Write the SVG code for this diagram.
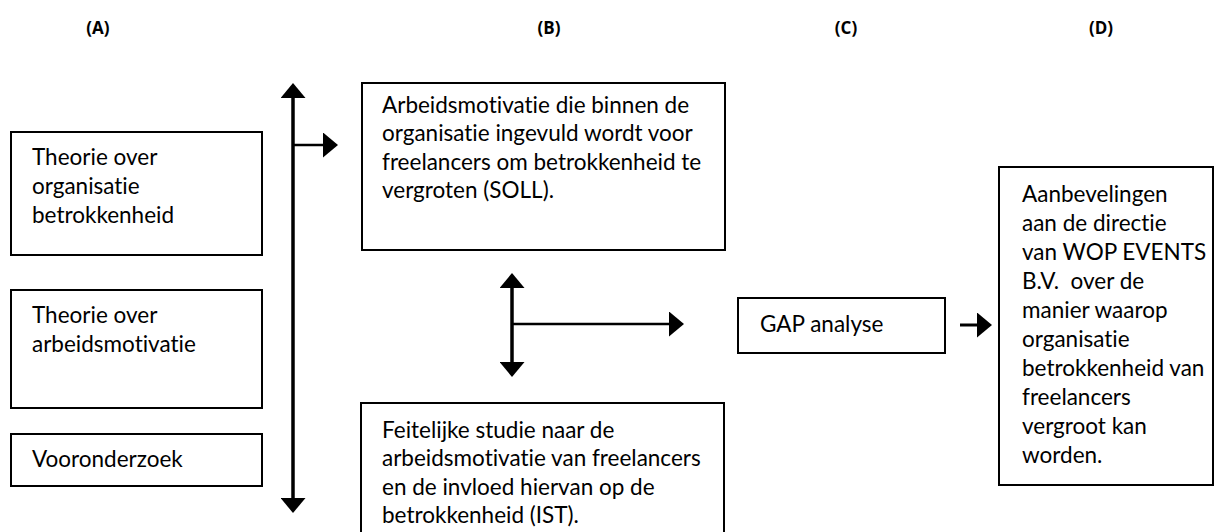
<svg xmlns="http://www.w3.org/2000/svg" width="1216" height="532" viewBox="0 0 1216 532">
<style>
.box{fill:#fff;stroke:#000;stroke-width:2}
.t{font-family:Lato,"Liberation Sans",sans-serif;font-size:22.5px;fill:#000;font-variant-ligatures:none;white-space:pre}
.h{font-family:"Open Sans","Liberation Sans",sans-serif;font-size:17px;font-weight:bold;fill:#000}
.c{stroke:#000;fill:none}
</style>
<defs>
<marker id="ah" viewBox="0 0 15 25" refX="0" refY="12.5" markerWidth="15" markerHeight="25" markerUnits="userSpaceOnUse" orient="auto-start-reverse">
<path d="M0,0 L15,12.5 L0,25 Z" fill="#000"/>
</marker>
</defs>
<rect width="1216" height="532" fill="#fff"/>
<g id="headers">
<text class="h" x="98" y="34" text-anchor="middle">(A)</text>
<text class="h" x="549" y="34" text-anchor="middle">(B)</text>
<text class="h" x="846" y="34" text-anchor="middle">(C)</text>
<text class="h" x="1101" y="34" text-anchor="middle">(D)</text>
</g>
<g id="connectors">
<line class="c" stroke-width="3.5" x1="293" y1="98" x2="293" y2="498" marker-start="url(#ah)" marker-end="url(#ah)"/>
<line class="c" stroke-width="2.5" x1="293" y1="145" x2="323" y2="145" marker-end="url(#ah)"/>
<line class="c" stroke-width="3.5" x1="512" y1="288" x2="512" y2="362" marker-start="url(#ah)" marker-end="url(#ah)"/>
<line class="c" stroke-width="2.5" x1="512" y1="324" x2="669" y2="324" marker-end="url(#ah)"/>
<line class="c" stroke-width="3" x1="960" y1="325" x2="977" y2="325" marker-end="url(#ah)"/>
</g>
<g id="nodeA1">
<rect class="box" x="11" y="132" width="251" height="123"/>
<text class="t" x="32" y="165">Theorie over</text>
<text class="t" x="32" y="194">organisatie</text>
<text class="t" x="32" y="223">betrokkenheid</text>
</g>
<g id="nodeA2">
<rect class="box" x="11" y="290" width="251" height="118"/>
<text class="t" x="32" y="323">Theorie over</text>
<text class="t" x="32" y="352">arbeidsmotivatie</text>
</g>
<g id="nodeA3">
<rect class="box" x="11" y="434" width="251" height="52"/>
<text class="t" x="32" y="467">Vooronderzoek</text>
</g>
<g id="nodeB1">
<rect class="box" x="362" y="83" width="363" height="167"/>
<text class="t" x="382" y="113">Arbeidsmotivatie die binnen de</text>
<text class="t" x="382" y="141">organisatie ingevuld wordt voor</text>
<text class="t" x="382" y="170">freelancers om betrokkenheid te</text>
<text class="t" x="382" y="198">vergroten (SOLL).</text>
</g>
<g id="nodeB2">
<rect class="box" x="361" y="403" width="363" height="140"/>
<text class="t" x="382" y="438">Feitelijke studie naar de</text>
<text class="t" x="382" y="466">arbeidsmotivatie van freelancers</text>
<text class="t" x="382" y="495">en de invloed hiervan op de</text>
<text class="t" x="382" y="523">betrokkenheid (IST).</text>
</g>
<g id="nodeC">
<rect class="box" x="738" y="298" width="207" height="55"/>
<text class="t" x="760" y="332">GAP analyse</text>
</g>
<g id="nodeD">
<rect class="box" x="999" y="167" width="214" height="318"/>
<text class="t" x="1022" y="202">Aanbevelingen</text>
<text class="t" x="1022" y="231">aan de directie</text>
<text class="t" x="1022" y="260">van WOP EVENTS</text>
<text class="t" x="1022" y="289">B.V.  over de</text>
<text class="t" x="1022" y="318">manier waarop</text>
<text class="t" x="1022" y="347">organisatie</text>
<text class="t" x="1022" y="376">betrokkenheid van</text>
<text class="t" x="1022" y="405">freelancers</text>
<text class="t" x="1022" y="434">vergroot kan</text>
<text class="t" x="1022" y="463">worden.</text>
</g>
</svg>
